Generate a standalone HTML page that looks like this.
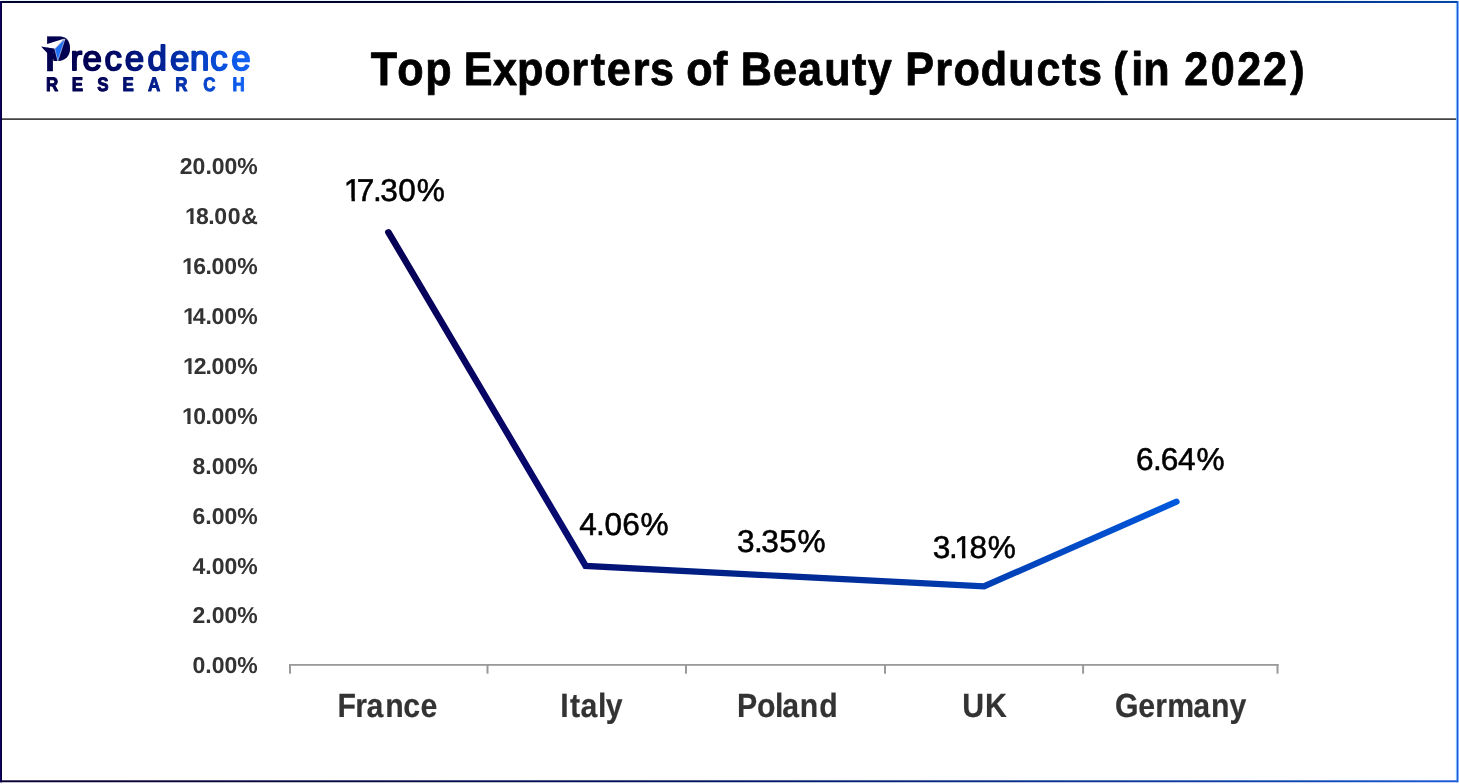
<!DOCTYPE html>
<html lang="en">
<head>
<meta charset="utf-8">
<title>Top Exporters of Beauty Products (in 2022)</title>
<style>
html,body{margin:0;padding:0;background:#fff;}
body{width:1459px;height:784px;overflow:hidden;font-family:"Liberation Sans",Arial,Helvetica,sans-serif;}
svg{display:block;}
svg text{font-family:"Liberation Sans",Arial,Helvetica,sans-serif;text-rendering:geometricPrecision;}
</style>
</head>
<body>
<svg width="1459" height="784" viewBox="0 0 1459 784">
<rect x="0" y="0" width="1459" height="784" fill="#fff"/>
<defs><linearGradient id="gtop" gradientUnits="userSpaceOnUse" x1="0.00" y1="0" x2="1459.00" y2="0"><stop offset="0" stop-color="#00002d"/><stop offset="0.3" stop-color="#00002d"/><stop offset="0.48" stop-color="#000a41"/><stop offset="0.69" stop-color="#001969"/><stop offset="0.89" stop-color="#00328c"/><stop offset="1" stop-color="#0a46a5"/></linearGradient><linearGradient id="gbot" gradientUnits="userSpaceOnUse" x1="0.00" y1="0" x2="1459.00" y2="0"><stop offset="0" stop-color="#080032"/><stop offset="0.07" stop-color="#080032"/><stop offset="0.48" stop-color="#00145f"/><stop offset="0.89" stop-color="#0f46af"/><stop offset="1" stop-color="#195ad7"/></linearGradient><linearGradient id="gl" gradientUnits="userSpaceOnUse" x1="359.26" y1="0" x2="1092.59" y2="0"><stop offset="0" stop-color="#060055"/><stop offset="0.19" stop-color="#08086c"/><stop offset="0.375" stop-color="#001e82"/><stop offset="0.63" stop-color="#0032a0"/><stop offset="0.97" stop-color="#0055d7"/><stop offset="1" stop-color="#005ade"/></linearGradient><linearGradient id="gt" gradientUnits="userSpaceOnUse" x1="41.00" y1="0" x2="250.00" y2="0"><stop offset="0" stop-color="#020050"/><stop offset="0.26" stop-color="#020052"/><stop offset="0.59" stop-color="#002396"/><stop offset="0.9" stop-color="#0a56e6"/><stop offset="1" stop-color="#1464f5"/></linearGradient><linearGradient id="gr" gradientUnits="userSpaceOnUse" x1="47.13" y1="0" x2="287.36" y2="0"><stop offset="0" stop-color="#020050"/><stop offset="0.26" stop-color="#020052"/><stop offset="0.59" stop-color="#002396"/><stop offset="0.9" stop-color="#0a56e6"/><stop offset="1" stop-color="#1464f5"/></linearGradient></defs>
<g id="frame"><rect x="1455" y="3" width="1" height="777" fill="#ebfaff"/><rect x="1456" y="3" width="1" height="777.3" fill="#82b9ff"/><rect x="1458" y="1" width="1" height="781.3" fill="#82afff"/><rect x="2" y="0" width="1455" height="1" fill="#dff4ff" opacity="0.7"/><rect x="0" y="1" width="1458" height="2" fill="url(#gtop)"/><rect x="0" y="780.3" width="1458" height="0.7" fill="url(#gbot)"/><rect x="0" y="781" width="1458" height="1" fill="url(#gbot)"/><rect x="0" y="782" width="1458" height="1" fill="url(#gbot)" opacity="0.25"/><rect x="0" y="1" width="1" height="781.3" fill="#0e0062"/><rect x="1" y="1" width="1" height="781.3" fill="#05003c"/><rect x="1457" y="1" width="1" height="781.3" fill="#195fd2"/></g>
<rect id="rule" x="2" y="118.25" width="1454.2" height="1.75" fill="#454545"/>
<g id="logo" aria-label="Precedence Research" font-weight="bold" fill="url(#gt)" stroke="url(#gt)" stroke-linejoin="round">
<text y="70.8" font-size="34.8" stroke-width="1.8"><tspan x="44.54" font-size="50.0" stroke-width="0.3" textLength="26.52" lengthAdjust="spacingAndGlyphs">P</tspan><tspan x="70.44 82.41 104.57 124.81 147.61 170.11 190.00 210.32 231.26" y="70.2" font-weight="normal">recedence</tspan></text>
<text transform="scale(0.87,1)" x="52.79 82.54 111.70 140.75 170.16 201.41 233.57 267.33" y="91.1" font-size="19.5" stroke-width="1.0" fill="url(#gr)" stroke="url(#gr)">RESEARCH</text>
</g>
<g id="mark"><path d="M53.3,60.9 L58.5,60.9 C64.8,60.9 70,56.4 70,49 C70,44.2 68,40.4 64,38.4 L53.3,44 Z" fill="#020050"/><polygon points="41.2,46.5 47.2,44.1 64.7,38.5 54.6,49" fill="#fff"/><polygon points="41,46.5 54.7,48.8 53.3,53.2 47.2,53" fill="#020050"/><polygon points="65,39 54.8,49 57.8,61" fill="#1e6ef6" stroke="#fff" stroke-width="0.5" stroke-linejoin="round"/></g>
<text id="title" transform="scale(0.92,1)" x="402.89 431.82 462.21 490.86 504.20 535.83 561.83 591.71 621.04 642.03 659.62 687.78 706.66 732.74 745.89 775.11 790.73 805.17 840.10 867.43 895.88 926.10 943.15 969.23 984.08 1016.59 1036.38 1066.10 1095.98 1126.73 1154.26 1171.77 1197.85 1210.01 1229.49 1242.65 1271.30 1287.19 1316.12 1344.80 1372.79 1402.36" y="84.65" font-size="46.9" font-weight="bold" fill="#000" stroke="#000" stroke-width="0.8" stroke-linejoin="round">Top Exporters of Beauty Products (in 2022)</text>
<g id="yaxis">
<text x="179.80" y="174.00" font-size="23" font-weight="bold" fill="#333">20.00%</text>
<text x="184.97 195.97 208.33 214.27 227.83 241.23" y="224.00" font-size="23" font-weight="bold" fill="#333">18.00&amp;</text><rect x="185.00" y="221.00" width="5.32" height="4.00" fill="#fff"/><rect x="193.51" y="221.00" width="3.50" height="4.00" fill="#fff"/>
<text x="182.02 193.18 205.39 211.47 224.29 237.26" y="274.00" font-size="23" font-weight="bold" fill="#333">16.00%</text><rect x="182.00" y="271.00" width="5.37" height="4.00" fill="#fff"/><rect x="190.56" y="271.00" width="3.77" height="4.00" fill="#fff"/>
<text x="183.05 192.77 205.39 211.47 224.29 237.26" y="323.80" font-size="23" font-weight="bold" fill="#333">14.00%</text><rect x="183.00" y="321.00" width="5.40" height="4.00" fill="#fff"/><rect x="191.59" y="321.00" width="4.41" height="4.00" fill="#fff"/>
<text x="183.05 193.84 205.39 211.47 224.29 237.26" y="373.70" font-size="23" font-weight="bold" fill="#333">12.00%</text><rect x="183.00" y="371.00" width="5.40" height="4.00" fill="#fff"/><rect x="191.59" y="371.00" width="2.89" height="4.00" fill="#fff"/>
<text x="182.02 193.20 205.39 211.47 224.29 237.26" y="424.00" font-size="23" font-weight="bold" fill="#333">10.00%</text><rect x="182.00" y="421.00" width="5.37" height="4.00" fill="#fff"/><rect x="190.56" y="421.00" width="3.86" height="4.00" fill="#fff"/>
<text x="192.59" y="473.90" font-size="23" font-weight="bold" fill="#333">8.00%</text>
<text x="192.59" y="523.90" font-size="23" font-weight="bold" fill="#333">6.00%</text>
<text x="192.59" y="574.00" font-size="23" font-weight="bold" fill="#333">4.00%</text>
<text x="192.59" y="623.00" font-size="23" font-weight="bold" fill="#333">2.00%</text>
<text x="192.59" y="673.00" font-size="23" font-weight="bold" fill="#333">0.00%</text>
</g>
<g id="xaxis" fill="#9a9a9a">
<rect x="289" y="664" width="989.5" height="1.8"/>
<rect x="289" y="664" width="2" height="9.7"/>
<rect x="486.5" y="664" width="2" height="9.7"/>
<rect x="685" y="664" width="2" height="9.7"/>
<rect x="884" y="664" width="2" height="9.7"/>
<rect x="1082.1" y="664" width="2" height="9.7"/>
<rect x="1276.5" y="664" width="2" height="9.7"/>
</g>
<polyline id="series" transform="scale(1.08,1)" points="359.63,232.20 542.31,565.90 726.85,576.20 911.11,586.40 1089.17,501.80" fill="none" stroke="url(#gl)" stroke-width="6.2" stroke-linecap="round" stroke-linejoin="miter"/>
<g id="values">
<text x="343.86 356.85 373.11 380.31 398.31 416.80" y="201.40" font-size="31.6" fill="#000" stroke="#000" stroke-width="0.55" stroke-linejoin="round">17.30%</text>
<rect x="345.00" y="198.00" width="6.51" height="5.00" fill="#fff"/><rect x="354.89" y="198.00" width="6.11" height="5.00" fill="#fff"/>
<text x="579.21 595.96 604.56 622.20 640.55" y="535.40" font-size="31.6" fill="#000" stroke="#000" stroke-width="0.55" stroke-linejoin="round">4.06%</text>

<text x="736.96 753.91 761.26 779.29 797.40" y="552.40" font-size="31.6" fill="#000" stroke="#000" stroke-width="0.55" stroke-linejoin="round">3.35%</text>

<text x="932.66 949.01 954.36 969.41 987.65" y="558.40" font-size="31.6" fill="#000" stroke="#000" stroke-width="0.55" stroke-linejoin="round">3.18%</text>
<rect x="955.33" y="555.00" width="6.68" height="5.00" fill="#fff"/><rect x="965.39" y="555.00" width="5.34" height="5.00" fill="#fff"/>
<text x="1136.05 1153.01 1160.75 1178.11 1196.50" y="470.40" font-size="31.6" fill="#000" stroke="#000" stroke-width="0.55" stroke-linejoin="round">6.64%</text>

</g>
<g id="cats">
<text transform="scale(0.9,1)" x="375.12 394.78 407.17 428.12 448.10 467.24" y="717.00" font-size="33.6" font-weight="bold" fill="#333" stroke="#333" stroke-width="0.2">France</text>
<text transform="scale(0.9,1)" x="622.62 633.32 644.96 664.53 672.94" y="717.00" font-size="33.6" font-weight="bold" fill="#333" stroke="#333" stroke-width="0.2">Italy</text>
<text transform="scale(0.9,1)" x="818.80 841.07 861.13 869.22 888.73 910.16" y="717.00" font-size="33.6" font-weight="bold" fill="#333" stroke="#333" stroke-width="0.2">Poland</text>
<text transform="scale(0.9,1)" x="1069.22 1094.46" y="717.00" font-size="33.6" font-weight="bold" fill="#333" stroke="#333" stroke-width="0.2">UK</text>
<text transform="scale(0.9,1)" x="1238.84 1264.69 1283.50 1296.83 1325.84 1345.45 1366.12" y="717.00" font-size="33.6" font-weight="bold" fill="#333" stroke="#333" stroke-width="0.2">Germany</text>
</g>
</svg>
</body>
</html>
